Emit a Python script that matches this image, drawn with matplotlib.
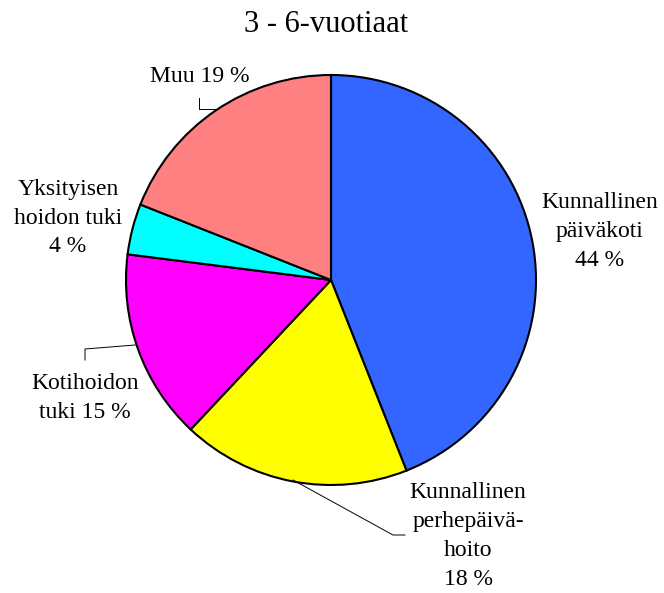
import matplotlib
matplotlib.use('Agg')
import matplotlib.pyplot as plt

# data
title = '3 - 6-vuotiaat'
categories = ['Kunnallinen\npäiväkoti', 'Kunnallinen\nperhepäivä-\nhoito',
              'Kotihoidon\ntuki', 'Yksityisen\nhoidon tuki', 'Muu']
shares = [44, 18, 15, 4, 19]
colors = ['#3366FF', '#FFFF00', '#FF00FF', '#00FFFF', '#FF8080']

plt.rcParams['font.family'] = ['Liberation Serif', 'DejaVu Serif']

W, H = 664, 593
fig = plt.figure(figsize=(W / 100, H / 100), dpi=100)
ax = fig.add_axes([0, 0, 1, 1])

# pie in pixel-like coordinates (y measured from top)
cx, cy, r = 331, 280, 205
ax.pie(shares, colors=colors, startangle=90, counterclock=False,
       center=(cx, H - cy), radius=r,
       wedgeprops=dict(edgecolor='black', linewidth=1.5))
ax.set_xlim(0, W)
ax.set_ylim(0, H)
ax.set_aspect('equal')
ax.axis('off')

def y(v):
    return H - v

# label texts
lab = [
    categories[0] + '\n%d %%' % shares[0],
    categories[1] + '\n%d %%' % shares[1],
    categories[2] + ' %d %%' % shares[2],
    categories[3] + '\n%d %%' % shares[3],
    categories[4] + ' %d %%' % shares[4],
]
pos = [(600, 231), (468, 536), (85, 398), (68, 218), (200, 76)]
for t, (px, py) in zip(lab, pos):
    ax.text(px, y(py), t, ha='center', va='center', fontsize=17,
            linespacing=1.5, multialignment='center')

# leader lines
lines = [
    [(199, 98), (199, 109), (217, 109)],
    [(85, 360), (85, 349), (135, 345)],
    [(293, 480), (393, 535), (405, 535)],
]
for pts in lines:
    ax.plot([p[0] for p in pts], [y(p[1]) for p in pts], color='black', lw=0.7)

ax.text(326, y(24), title, ha='center', va='center', fontsize=22)

fig.savefig('out.png', dpi=100)
